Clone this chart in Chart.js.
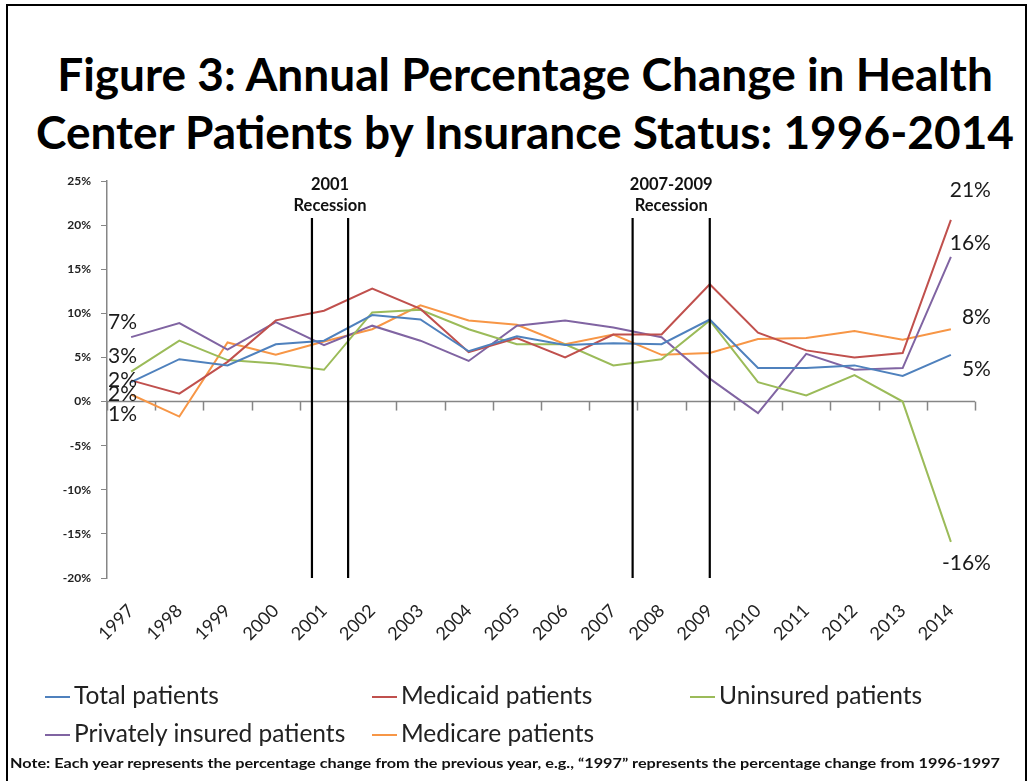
<!DOCTYPE html>
<html>
<head>
<meta charset="utf-8">
<script src="https://cdn.jsdelivr.net/npm/chart.js@4/dist/chart.umd.min.js"></script>
<style>
  html, body { margin:0; padding:0; background:#fff; }
  body { width:1034px; height:781px; position:relative; overflow:hidden; font-family: Lato, "Open Sans", sans-serif; }
  #frame { position:absolute; left:6px; top:4px; width:1021px; height:800px; border:2px solid #000; box-sizing:border-box; }
  #title { position:absolute; left:8px; top:45px; width:1034px; text-align:center; font-weight:bold; font-size:46px; line-height:58px; color:#000; }
  #c { position:absolute; left:0; top:0; }
  .leg { position:absolute; font-size:24.5px; color:#222; white-space:nowrap; line-height:28px; }
  .leg span.sw { display:inline-block; width:25px; height:2px; vertical-align:middle; margin-right:4px; position:relative; top:-1px; }
  #note { position:absolute; left:10px; top:755px; font-size:13px; font-weight:bold; color:#111; white-space:nowrap; transform-origin:0 50%; }
</style>
</head>
<body>
<div id="frame"></div>
<div id="title">Figure 3: Annual Percentage Change in Health<br>Center Patients by Insurance Status: 1996-2014</div>
<canvas id="c" width="1034" height="781"></canvas>
<div id="legend"></div>
<div id="note">Note: Each year represents the percentage change from the previous year, e.g., “1997” represents the percentage change from 1996-1997</div>
<script>
// ---- data ----
const years = ['1997','1998','1999','2000','2001','2002','2003','2004','2005','2006','2007','2008','2009','2010','2011','2012','2013','2014'];
const totalPatients     = [2.2, 4.8, 4.1, 6.5, 6.9, 9.8, 9.3, 5.7, 7.4, 6.4, 6.6, 6.5, 9.3, 3.8, 3.8, 4.1, 2.9, 5.3];
const medicaidPatients  = [2.4, 0.9, 4.5, 9.2, 10.3, 12.8, 10.5, 5.6, 7.2, 5.0, 7.6, 7.6, 13.3, 7.8, 5.8, 5.0, 5.5, 20.6];
const uninsuredPatients = [3.4, 6.9, 4.7, 4.3, 3.6, 10.1, 10.4, 8.2, 6.5, 6.5, 4.1, 4.8, 9.2, 2.2, 0.7, 3.0, 0.0, -15.9];
const privatePatients   = [7.3, 8.9, 5.9, 9.0, 6.4, 8.6, 6.9, 4.6, 8.6, 9.2, 8.4, 7.3, 2.6, -1.3, 5.4, 3.6, 3.8, 16.4];
const medicarePatients  = [0.8, -1.7, 6.7, 5.3, 6.8, 8.2, 10.9, 9.2, 8.7, 6.5, 7.6, 5.3, 5.5, 7.1, 7.2, 8.0, 7.0, 8.2];
const seriesNames = ['Total patients','Medicaid patients','Uninsured patients','Privately insured patients','Medicare patients'];
const seriesColors = ['#4F81BD','#C0504D','#9BBB59','#8064A2','#F79646'];
const yTicks = [-20,-15,-10,-5,0,5,10,15,20,25];
// recession markers: [start index, end index, label]
const recessions = [[3.75, 4.5, '2001'], [10.4, 12.0, '2007-2009']];

const seriesValues = [totalPatients, medicaidPatients, uninsuredPatients, privatePatients, medicarePatients];

// label pixel nudges (style, not data)
const firstLabelDy = [12, 0, -15, -15, 20];
const lastLabelDy  = [14, -30, 21, -14, -12];

// ---- legend (HTML) ----
const legPos = [[45,681],[372,681],[690,681],[45,719],[372,719]];
const legend = document.getElementById('legend');
seriesNames.forEach((n,i)=>{
  const d = document.createElement('div');
  d.className='leg';
  d.style.left = legPos[i][0]+'px';
  d.style.top = legPos[i][1]+'px';
  d.innerHTML = '<span class="sw" style="background:'+seriesColors[i]+'"></span>'+n;
  legend.appendChild(d);
});
// stretch note to span the width like the reference
const note = document.getElementById('note');
note.style.transform = 'scaleX(' + (990 / note.getBoundingClientRect().width) + ')';

const axisGray = '#868686';

const overlay = {
  id:'overlay',
  beforeDatasetsDraw(chart){
    const {ctx, chartArea:a, scales:{x,y}} = chart;
    const y0 = y.getPixelForValue(0);
    ctx.save();
    ctx.strokeStyle = axisGray; ctx.lineWidth = 1.5;
    ctx.beginPath(); ctx.moveTo(a.left, y0); ctx.lineTo(a.right, y0); ctx.stroke();
    for (let i=0;i<=years.length;i++){
      const px = Math.round(x.getPixelForValue(i-0.5))+0.5;
      ctx.beginPath(); ctx.moveTo(px, y0); ctx.lineTo(px, y0+9); ctx.stroke();
    }
    ctx.restore();
  },
  afterDatasetsDraw(chart){
    const {ctx, scales:{x,y}} = chart;
    ctx.save();
    // recession lines
    ctx.strokeStyle = '#000'; ctx.lineWidth = 2.2;
    const topY = y.getPixelForValue(20.8), botY = y.getPixelForValue(-20);
    recessions.forEach(r=>{
      const x1 = x.getPixelForValue(r[0]), x2 = x.getPixelForValue(r[1]);
      [x1,x2].forEach(px=>{ ctx.beginPath(); ctx.moveTo(px, topY); ctx.lineTo(px, botY); ctx.stroke(); });
      ctx.fillStyle = '#111';
      ctx.font = 'bold 16.5px Lato, sans-serif';
      ctx.textAlign = 'center'; ctx.textBaseline = 'middle';
      const cx = (x1+x2)/2;
      ctx.fillText(r[2], cx, topY-33);
      ctx.fillText('Recession', cx, topY-12);
    });
    // data labels
    ctx.font = '21px Lato, sans-serif';
    ctx.fillStyle = '#1a1a1a';
    ctx.textBaseline = 'middle';
    seriesValues.forEach((vals,i)=>{
      const v0 = vals[0], vn = vals[vals.length-1];
      ctx.textAlign = 'left';
      ctx.fillText(Math.round(v0)+'%', x.left+1, y.getPixelForValue(v0)+firstLabelDy[i]);
      ctx.textAlign = 'right';
      ctx.fillText(Math.round(vn)+'%', x.getPixelForValue(vals.length-1)+40, y.getPixelForValue(vn)+lastLabelDy[i]);
    });
    ctx.restore();
  }
};

new Chart(document.getElementById('c'), {
  type:'line',
  data:{
    labels: years,
    datasets: seriesValues.map((vals,i)=>({
      label: seriesNames[i], data: vals, borderColor: seriesColors[i], backgroundColor: seriesColors[i],
      borderWidth: 2, pointRadius: 0, tension: 0, fill: false
    }))
  },
  options:{
    responsive:false, animation:false,
    layout:{ padding:{ left:42, right:59, top:181, bottom:0 } },
    plugins:{ legend:{display:false}, title:{display:false}, tooltip:{enabled:false} },
    scales:{
      x:{
        type:'category', offset:true,
        grid:{ display:false, offset:true },
        border:{ display:false },
        ticks:{ minRotation:45, maxRotation:45, autoSkip:false, padding:14, color:'#222', font:{ family:'Lato', size:18 } },
        afterFit(s){ s.height = 203; }
      },
      y:{
        min:-20, max:25,
        afterBuildTicks(s){ s.ticks = yTicks.map(v=>({value:v})); },
        grid:{ drawOnChartArea:false, drawTicks:true, tickLength:6, color:axisGray },
        border:{ display:true, color:axisGray, width:1.5 },
        ticks:{ padding:10, color:'#222', font:{ family:'Lato', size:12, weight:'bold' }, callback:v=>v+'%' },
        afterFit(s){ s.width = 65; }
      }
    }
  },
  plugins:[overlay]
});
</script>
</body>
</html>
